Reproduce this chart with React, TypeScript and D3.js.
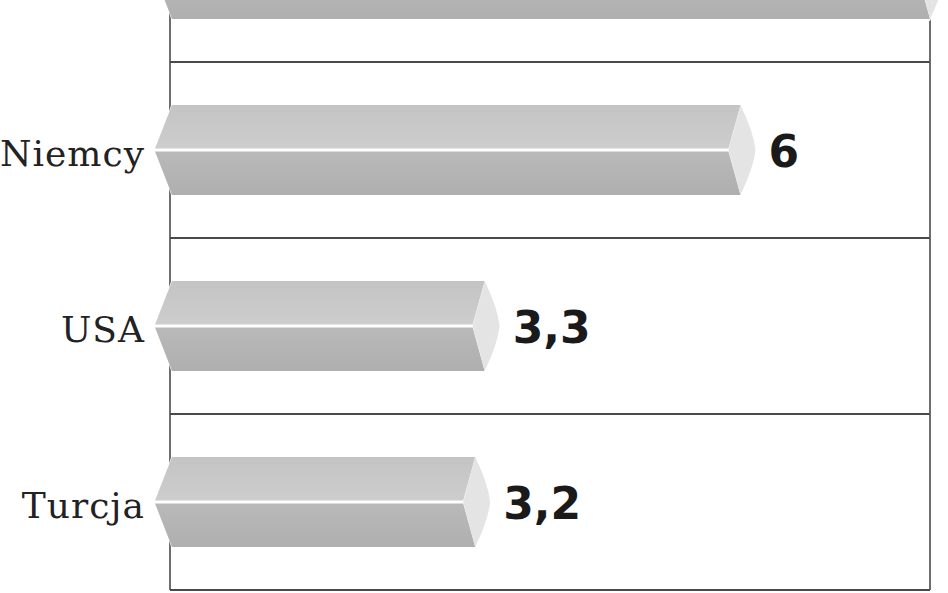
import * as d3 from 'd3';
import { useEffect, useRef } from 'react';

// Categories (top one is cut off in the picture)
const categories = ['', 'Niemcy', 'USA', 'Turcja'];
const values = [8.0, 6, 3.3, 3.2];
const valueLabels = ['', '6', '3,3', '3,2'];

const WIDTH = 948;
const HEIGHT = 593;

export default function App() {
  const ref = useRef<SVGSVGElement>(null);

  useEffect(() => {
    const svg = d3.select(ref.current);
    svg.selectAll('*').remove();

    // scales
    const x = d3.scaleLinear().domain([0, 8]).range([172, 930]);
    const y = d3.scaleBand().domain(categories.map((c, i) => String(i))).range([-114, 590]);
    const half = 45;
    const notch = 12; // depth of the end chevrons
    const tip = 15;

    // frame / grid
    const grid = svg.append('g');
    grid
      .selectAll('line.h')
      .data(categories)
      .join('line')
      .attr('class', 'h')
      .attr('x1', 170)
      .attr('x2', 930)
      .attr('y1', (_, i) => y(String(i))! + y.bandwidth())
      .attr('y2', (_, i) => y(String(i))! + y.bandwidth())
      .attr('stroke', '#4a4a4a')
      .attr('stroke-width', 2);
    grid
      .selectAll('line.v')
      .data([170, 930])
      .join('line')
      .attr('class', 'v')
      .attr('x1', (d) => d)
      .attr('x2', (d) => d)
      .attr('y1', y.range()[0])
      .attr('y2', y.range()[1])
      .attr('stroke', '#4a4a4a')
      .attr('stroke-width', 1.6);

    const defs = svg.append('defs');
    const gTop = defs.append('linearGradient').attr('id', 'gTop').attr('x1', 0).attr('x2', 0).attr('y1', 0).attr('y2', 1);
    gTop.append('stop').attr('offset', 0).attr('stop-color', '#c4c4c4');
    gTop.append('stop').attr('offset', 1).attr('stop-color', '#cdcdcd');
    const gBot = defs.append('linearGradient').attr('id', 'gBot').attr('x1', 0).attr('x2', 0).attr('y1', 0).attr('y2', 1);
    gBot.append('stop').attr('offset', 0).attr('stop-color', '#b9b9b9');
    gBot.append('stop').attr('offset', 1).attr('stop-color', '#afafaf');

    const bars = svg
      .append('g')
      .selectAll('g')
      .data(values)
      .join('g')
      .attr('transform', (_, i) => `translate(0,${y(String(i))! + y.bandwidth() / 2})`);

    const x0 = x(0);

    // white halo
    bars
      .append('path')
      .attr('d', (d) => {
        const xe = x(d);
        return `M${x0},${-half - 2} L${xe},${-half - 2} L${xe + tip + 2},0 L${xe},${half + 2} L${x0},${half + 2} L${x0 - tip - 2},0 Z`;
      })
      .attr('fill', '#fff');

    // upper half
    bars
      .append('path')
      .attr('d', (d) => {
        const xe = x(d);
        return `M${x0},${-half} L${xe},${-half} L${xe - notch},-1.5 L${x0 - tip - 2},-1.5 Z`;
      })
      .attr('fill', 'url(#gTop)');

    // lower half
    bars
      .append('path')
      .attr('d', (d) => {
        const xe = x(d);
        return `M${x0 - tip - 2},1.5 L${xe - notch},1.5 L${xe},${half} L${x0},${half} Z`;
      })
      .attr('fill', 'url(#gBot)');

    // light end cap
    bars
      .append('path')
      .attr('d', (d) => {
        const xe = x(d);
        return `M${xe},${-half} Q${xe + tip - 2},${-half * 0.4} ${xe + tip},0 Q${xe + tip - 2},${half * 0.4} ${xe},${half} L${xe - notch},0 Z`;
      })
      .attr('fill', '#e4e4e4');

    // value labels
    bars
      .append('text')
      .attr('x', (d) => x(d) + tip + 13)
      .attr('y', 17)
      .attr('font-family', '"DejaVu Sans", sans-serif')
      .attr('font-weight', 'bold')
      .attr('font-size', 44)
      .attr('fill', '#1a1a1a')
      .text((_, i) => valueLabels[i]);

    // category labels
    bars
      .append('text')
      .attr('x', 145)
      .attr('y', 16)
      .attr('text-anchor', 'end')
      .attr('font-family', '"DejaVu Serif", serif')
      .attr('font-size', 36)
      .attr('letter-spacing', 1)
      .attr('fill', '#222')
      .text((_, i) => categories[i]);
  }, []);

  return (
    <div style={{ position: 'absolute', left: 0, top: 0 }}>
      <svg ref={ref} width={WIDTH} height={HEIGHT} style={{ display: 'block', background: '#fff' }} />
    </div>
  );
}
